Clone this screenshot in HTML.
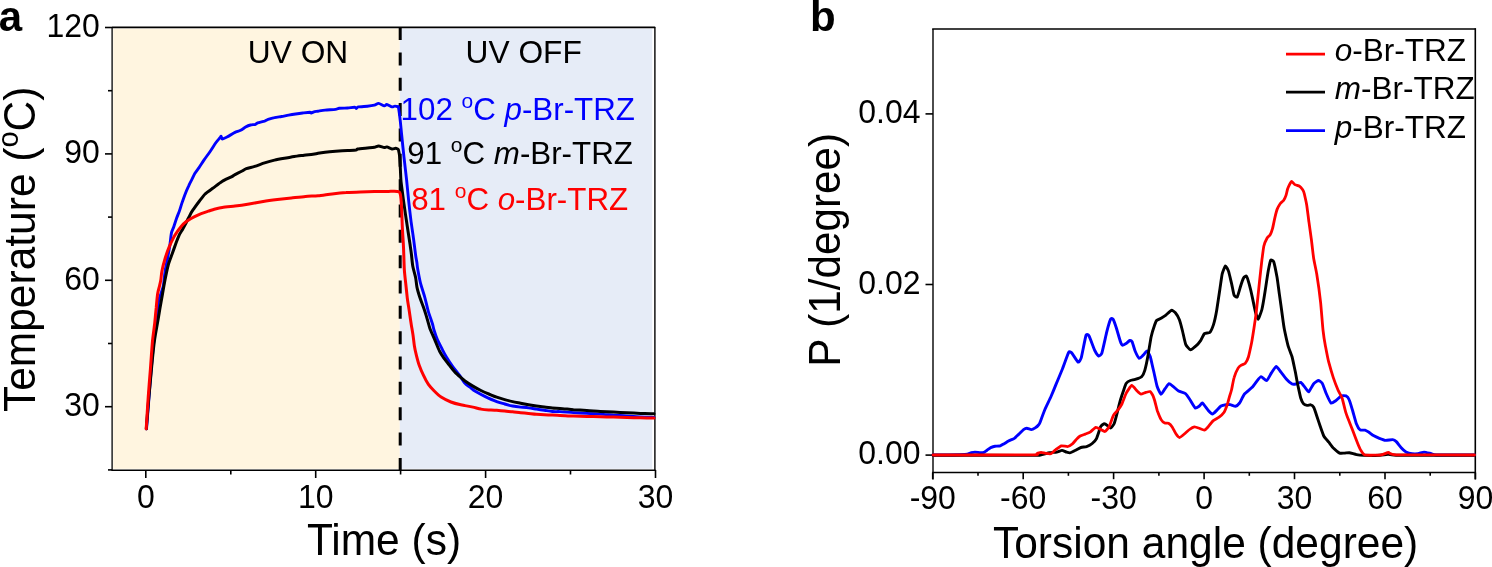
<!DOCTYPE html>
<html><head><meta charset="utf-8"><style>
html,body{margin:0;padding:0;background:#fff;}
svg{display:block;will-change:transform;}
text{font-family:"Liberation Sans", sans-serif;}
</style></head><body>
<svg width="1492" height="567" viewBox="0 0 1492 567">
<rect x="113.2" y="28.6" width="286.6" height="440.2" fill="#FFF5E0"/>
<rect x="399.8" y="28.6" width="252.4" height="440.2" fill="#E6ECF7"/>
<g stroke="#000" fill="none">
<path d="M112.1,27 V470.6" stroke-width="1.3"/>
<path d="M111.5,470.2 H655.6" stroke-width="1.6"/>
<path d="M112,27.4 H655.2" stroke-width="1.6"/>
<path d="M654.9,27 V470.6" stroke-width="1.4"/>
<path d="M105,27.5 H112" stroke-width="1.6"/>
<path d="M105,153.9 H112" stroke-width="1.6"/>
<path d="M105,280.3 H112" stroke-width="1.6"/>
<path d="M105,406.7 H112" stroke-width="1.6"/>
<path d="M108,90.7 H112" stroke-width="1.6"/>
<path d="M108,217.1 H112" stroke-width="1.6"/>
<path d="M108,343.5 H112" stroke-width="1.6"/>
<path d="M108,469.9 H112" stroke-width="1.6"/>
<path d="M145.8,470 V478" stroke-width="1.6"/>
<path d="M315.7,470 V478" stroke-width="1.6"/>
<path d="M485.6,470 V478" stroke-width="1.6"/>
<path d="M655.5,470 V478" stroke-width="1.6"/>
<path d="M230.8,470 V474.5" stroke-width="1.6"/>
<path d="M400.6,470 V474.5" stroke-width="1.6"/>
<path d="M570.5,470 V474.5" stroke-width="1.6"/>
</g>
<path d="M400.2,27.1 V470" stroke="#000" stroke-width="3" stroke-dasharray="13 12.34" fill="none"/>
<path d="M146.5,428.8 C146.8,425.2 148.2,407.5 148.8,400.0 C149.4,392.5 150.7,374.7 151.2,369.1 C151.7,363.5 152.2,358.6 152.5,355.0 C152.8,351.4 153.5,344.1 153.9,340.0 C154.3,335.9 155.6,325.8 156.0,322.0 C156.4,318.2 157.2,312.8 157.5,310.0 C157.8,307.2 158.3,302.2 158.8,300.0 C159.3,297.8 160.9,293.9 161.5,292.0 C162.1,290.1 163.1,287.6 163.5,285.0 C163.9,282.4 164.6,274.5 165.1,271.2 C165.6,267.9 166.9,261.7 167.5,258.5 C168.1,255.3 169.3,249.0 169.8,245.8 C170.3,242.6 170.9,235.5 171.4,233.1 C171.9,230.7 173.2,228.5 173.8,226.7 C174.4,224.9 175.8,220.5 176.5,218.5 C177.2,216.5 178.7,212.9 179.4,211.0 C180.1,209.1 181.2,205.2 181.9,203.1 C182.6,201.0 184.2,196.6 185.0,194.4 C185.8,192.2 187.8,187.7 188.7,185.8 C189.5,184.0 191.0,181.1 191.8,179.6 C192.6,178.1 193.9,175.0 194.8,173.5 C195.7,172.0 198.0,169.0 199.2,167.3 C200.4,165.6 202.7,161.9 204.1,159.9 C205.5,157.9 208.8,153.4 210.3,151.2 C211.8,149.0 214.8,144.2 216.0,142.5 C217.2,140.8 219.4,138.5 220.0,137.7 C220.6,136.9 220.8,136.1 221.1,136.3 C221.4,136.5 221.5,139.0 222.4,139.0 C223.3,139.0 227.1,136.9 228.7,136.1 C230.3,135.3 233.5,133.1 235.0,132.4 C236.5,131.7 239.3,131.0 240.6,130.3 C241.9,129.6 244.4,127.8 245.6,127.1 C246.8,126.4 249.3,125.3 250.5,125.0 C251.7,124.7 254.6,124.6 255.5,124.3 C256.4,124.0 256.5,123.3 257.6,122.9 C258.7,122.5 263.3,121.5 264.6,121.1 C265.9,120.6 266.9,119.7 268.1,119.3 C269.3,118.9 272.8,117.9 274.5,117.6 C276.2,117.2 279.7,116.8 281.5,116.5 C283.3,116.2 286.8,115.4 288.6,115.1 C290.4,114.8 293.8,114.3 295.6,114.0 C297.4,113.7 300.9,113.2 302.7,113.0 C304.5,112.8 308.7,112.3 309.8,112.3 C310.9,112.3 310.6,113.1 311.2,113.0 C311.8,112.9 313.8,111.8 314.7,111.6 C315.6,111.4 316.7,111.4 318.0,111.2 C319.3,111.0 322.9,110.3 325.1,110.1 C327.3,109.9 333.8,109.6 335.6,109.4 C337.4,109.2 337.7,108.5 339.2,108.3 C340.7,108.1 345.7,108.1 347.6,108.0 C349.5,107.9 353.6,107.2 354.7,107.3 C355.8,107.4 356.0,108.5 356.4,108.5 C356.8,108.5 356.8,107.2 358.2,106.9 C359.6,106.6 365.4,106.4 367.4,106.2 C369.4,106.0 373.0,105.5 374.4,105.2 C375.8,104.9 377.4,103.3 378.6,103.4 C379.8,103.5 383.3,105.8 384.3,105.9 C385.3,106.0 385.8,104.4 386.8,104.5 C387.8,104.6 391.0,106.7 392.0,106.9 C393.0,107.1 394.1,106.1 394.9,106.1 C395.6,106.1 397.6,106.7 398.0,106.9 C398.4,107.1 398.2,105.7 398.5,107.5 C398.8,109.3 399.9,117.6 400.3,121.1 C400.7,124.6 401.2,130.8 401.7,135.2 C402.1,139.6 403.3,150.7 403.9,156.3 C404.5,161.9 406.0,174.4 406.6,180.0 C407.2,185.6 408.2,196.2 408.7,201.1 C409.2,206.0 410.2,214.6 410.8,219.4 C411.4,224.2 413.0,234.8 413.6,239.2 C414.2,243.6 415.2,252.2 415.6,255.0 C416.0,257.9 416.5,260.2 416.8,262.0 C417.1,263.8 417.2,266.5 417.7,269.1 C418.2,271.8 419.6,279.7 420.5,283.2 C421.4,286.7 423.8,293.8 424.8,297.3 C425.8,300.8 427.3,308.0 428.3,311.3 C429.3,314.6 431.8,321.7 432.5,324.0 C433.2,326.3 433.4,328.0 434.0,330.0 C434.6,332.0 436.4,337.4 437.5,339.9 C438.6,342.4 441.4,347.6 442.5,349.8 C443.6,352.0 445.5,355.5 446.7,357.5 C447.9,359.5 450.8,363.8 452.4,366.0 C454.0,368.2 457.8,373.0 459.4,375.2 C461.0,377.4 463.7,381.8 465.0,383.3 C466.3,384.8 468.7,386.2 470.0,387.2 C471.3,388.2 473.4,390.2 475.3,391.3 C477.2,392.4 482.1,395.1 484.8,396.4 C487.5,397.7 494.2,400.7 496.7,401.6 C499.2,402.6 502.7,403.4 504.7,404.0 C506.7,404.6 510.6,405.6 512.6,406.0 C514.6,406.4 518.6,406.9 520.6,407.1 C522.6,407.3 526.5,407.6 528.5,407.9 C530.5,408.1 534.4,408.8 536.4,409.1 C538.4,409.4 542.4,410.0 544.4,410.3 C546.4,410.6 550.3,411.3 552.3,411.5 C554.2,411.7 557.4,411.5 560.0,411.6 C562.6,411.7 570.0,412.4 573.4,412.6 C576.8,412.8 583.4,413.2 586.8,413.4 C590.1,413.6 596.9,413.9 600.2,414.1 C603.6,414.3 610.7,414.9 613.6,415.1 C616.5,415.3 620.4,415.6 623.7,415.8 C627.0,416.0 636.2,416.7 640.0,416.9 C643.8,417.1 652.2,417.4 654.0,417.5" stroke="#0000FF" stroke-width="2.9" fill="none" stroke-linejoin="round" stroke-linecap="round"/>
<path d="M146.3,428.8 C146.6,425.2 148.0,406.6 148.6,400.0 C149.2,393.4 150.3,381.0 150.8,376.0 C151.3,371.0 151.9,363.9 152.3,360.0 C152.7,356.1 153.5,348.2 153.9,345.0 C154.3,341.8 155.0,336.8 155.5,334.0 C156.0,331.2 157.0,325.6 157.6,322.3 C158.2,319.1 159.4,311.5 160.0,308.0 C160.6,304.5 161.9,297.5 162.5,294.0 C163.1,290.5 164.3,283.6 165.0,280.0 C165.7,276.4 167.4,268.1 168.3,264.8 C169.2,261.5 171.2,256.5 172.2,253.7 C173.2,250.9 175.3,245.0 176.2,242.6 C177.1,240.2 178.6,236.4 179.4,234.7 C180.2,233.0 182.0,230.5 182.8,229.0 C183.6,227.5 185.3,224.4 186.0,223.0 C186.7,221.6 187.8,219.3 188.5,218.0 C189.2,216.7 190.6,213.8 191.3,212.6 C192.0,211.4 193.1,209.8 194.1,208.3 C195.1,206.9 198.1,202.8 199.5,201.0 C200.9,199.2 203.7,195.4 205.3,193.8 C207.0,192.2 210.6,189.8 212.7,188.3 C214.8,186.8 219.6,183.0 222.0,181.5 C224.4,180.0 230.3,177.5 231.9,176.6 C233.5,175.7 233.7,175.3 235.0,174.6 C236.3,173.9 240.7,171.8 242.1,171.0 C243.5,170.2 244.7,169.2 246.3,168.6 C247.9,168.0 252.4,167.1 254.7,166.4 C257.0,165.7 262.1,163.7 264.6,162.9 C267.1,162.1 272.0,160.7 274.5,160.1 C277.0,159.5 281.9,158.7 284.4,158.3 C286.9,157.9 291.7,157.0 294.2,156.6 C296.7,156.2 302.0,155.5 304.1,155.2 C306.2,154.9 309.5,154.7 311.2,154.5 C312.9,154.3 316.3,153.6 318.0,153.3 C319.7,153.0 322.9,152.5 325.1,152.2 C327.3,151.9 332.8,151.4 335.6,151.2 C338.4,151.0 345.0,150.6 347.6,150.5 C350.2,150.4 354.9,150.3 356.1,150.1 C357.3,149.9 356.1,149.3 357.5,149.0 C358.9,148.7 365.3,148.2 367.4,148.0 C369.5,147.8 373.0,147.6 374.4,147.3 C375.8,147.0 377.4,145.9 378.6,145.9 C379.8,145.9 383.3,147.5 384.3,147.6 C385.3,147.7 385.8,146.7 386.8,146.9 C387.8,147.1 390.9,148.8 392.0,149.0 C393.1,149.2 394.9,148.3 395.6,148.3 C396.3,148.3 397.3,148.8 397.7,149.0 C398.1,149.2 398.3,149.1 398.5,150.0 C398.7,150.9 399.4,154.1 399.6,156.3 C399.8,158.5 400.1,164.6 400.3,167.6 C400.5,170.6 400.6,176.3 400.9,180.0 C401.2,183.7 402.5,192.8 403.0,196.9 C403.5,201.0 404.7,208.7 405.2,212.4 C405.7,216.1 406.7,222.4 407.3,226.5 C407.9,230.6 409.6,241.2 410.1,244.8 C410.6,248.4 411.2,252.3 411.5,255.0 C411.8,257.7 412.3,263.5 412.8,266.3 C413.3,269.1 415.1,274.9 415.6,277.5 C416.1,280.1 416.5,284.9 417.0,287.4 C417.5,289.9 419.0,294.8 419.8,297.3 C420.6,299.8 422.6,304.8 423.4,307.1 C424.2,309.4 425.5,313.3 426.2,315.6 C426.9,317.9 428.5,323.6 429.0,325.4 C429.5,327.2 429.7,328.0 430.5,330.0 C431.3,332.0 434.3,338.7 435.4,341.3 C436.5,343.9 438.5,349.1 439.6,351.2 C440.7,353.3 442.7,356.4 443.9,358.2 C445.1,360.0 448.1,363.5 449.5,365.3 C450.9,367.1 453.6,370.7 455.2,372.4 C456.8,374.1 461.0,377.6 462.2,378.7 C463.4,379.8 463.7,380.1 465.0,381.0 C466.3,381.9 470.9,384.9 472.9,386.1 C474.9,387.3 478.9,389.5 480.9,390.5 C482.9,391.5 486.8,393.2 488.8,394.0 C490.8,394.8 494.7,396.5 496.7,397.2 C498.7,397.9 502.7,399.1 504.7,399.6 C506.7,400.2 510.6,401.2 512.6,401.6 C514.6,402.1 518.6,402.8 520.6,403.2 C522.6,403.6 526.5,404.4 528.5,404.8 C530.5,405.2 534.4,405.8 536.4,406.1 C538.4,406.4 542.4,406.7 544.4,406.9 C546.4,407.1 550.3,407.7 552.3,407.9 C554.2,408.1 557.4,408.2 560.0,408.4 C562.6,408.6 570.0,409.4 573.4,409.7 C576.8,409.9 583.4,410.2 586.8,410.4 C590.1,410.6 596.9,411.2 600.2,411.4 C603.6,411.6 610.2,411.9 613.6,412.1 C617.0,412.3 623.6,412.6 627.0,412.8 C630.4,413.0 637.0,413.3 640.4,413.4 C643.8,413.5 652.3,413.8 654.0,413.8" stroke="#000" stroke-width="3" fill="none" stroke-linejoin="round" stroke-linecap="round"/>
<path d="M146.2,428.8 C146.4,424.9 147.7,404.9 148.2,397.4 C148.7,389.9 150.0,374.4 150.4,369.1 C150.8,363.8 151.1,358.6 151.4,355.0 C151.7,351.4 152.2,344.1 152.6,340.0 C153.0,335.9 154.4,326.3 154.8,322.3 C155.2,318.3 155.8,311.5 156.2,308.0 C156.5,304.5 157.2,296.8 157.6,294.0 C158.0,291.2 159.1,287.8 159.5,286.0 C159.9,284.2 160.5,281.9 160.8,280.0 C161.1,278.1 161.4,273.9 161.9,271.2 C162.4,268.5 164.2,261.5 165.1,258.5 C166.0,255.5 167.9,250.1 169.0,247.4 C170.1,244.7 172.8,239.0 173.8,237.1 C174.8,235.2 176.2,233.2 177.0,232.0 C177.8,230.8 179.4,228.8 180.2,227.8 C181.0,226.8 182.6,224.8 183.5,223.9 C184.4,223.1 185.8,221.9 187.1,221.0 C188.4,220.1 192.3,217.7 194.1,216.8 C195.9,215.9 199.4,214.3 201.2,213.6 C203.0,212.9 206.4,211.8 208.2,211.2 C210.0,210.6 213.5,209.4 215.3,209.0 C217.1,208.6 219.8,208.0 222.3,207.6 C224.8,207.2 231.7,206.5 235.0,206.1 C238.3,205.7 245.6,204.6 249.1,204.0 C252.6,203.4 259.7,202.1 263.2,201.5 C266.7,200.9 273.8,200.0 277.3,199.6 C280.8,199.2 287.9,198.4 291.4,198.0 C294.9,197.6 302.2,196.7 305.5,196.4 C308.8,196.1 314.7,196.1 318.0,195.8 C321.3,195.5 328.6,194.3 332.1,193.9 C335.6,193.5 342.7,192.8 346.2,192.6 C349.7,192.3 356.8,192.0 360.3,191.9 C363.8,191.8 370.9,191.7 374.4,191.6 C377.9,191.5 386.0,191.5 388.5,191.4 C391.0,191.3 392.9,191.1 394.2,191.2 C395.5,191.3 398.4,191.6 399.1,191.9 C399.9,192.2 400.0,193.2 400.2,194.0 C400.4,194.8 400.7,196.2 400.9,198.0 C401.1,199.8 401.4,204.6 401.6,208.2 C401.8,211.8 402.1,222.1 402.3,226.5 C402.5,230.9 403.1,239.8 403.3,243.4 C403.5,247.0 403.7,251.8 403.8,255.0 C403.9,258.2 404.1,265.6 404.3,269.1 C404.5,272.6 405.3,279.7 405.7,283.2 C406.1,286.7 406.8,293.8 407.2,297.3 C407.6,300.8 408.8,307.8 409.3,311.3 C409.8,314.8 410.9,322.4 411.4,325.4 C411.9,328.4 412.6,332.4 413.0,335.0 C413.4,337.6 414.0,343.4 414.4,346.0 C414.8,348.6 415.8,353.0 416.4,355.4 C417.0,357.8 418.3,362.8 419.2,365.3 C420.1,367.8 422.2,372.8 423.4,375.2 C424.5,377.6 427.1,382.5 428.4,384.4 C429.7,386.3 432.4,389.1 434.0,390.7 C435.6,392.3 439.0,395.7 441.1,397.1 C443.2,398.5 448.4,401.0 450.9,402.0 C453.4,403.0 459.0,404.4 460.8,404.8 C462.6,405.2 463.5,405.3 465.0,405.6 C466.5,405.9 470.9,406.7 472.9,407.1 C474.9,407.5 478.9,408.8 480.9,409.1 C482.9,409.5 486.8,409.8 488.8,409.9 C490.8,410.0 494.7,410.1 496.7,410.3 C498.7,410.5 502.7,410.9 504.7,411.1 C506.7,411.3 510.6,411.5 512.6,411.7 C514.6,411.9 518.6,412.5 520.6,412.7 C522.6,412.9 526.5,413.3 528.5,413.5 C530.5,413.7 534.4,414.2 536.4,414.3 C538.4,414.4 542.4,414.6 544.4,414.7 C546.4,414.8 550.3,415.0 552.3,415.1 C554.2,415.2 557.4,415.3 560.0,415.4 C562.6,415.5 570.0,416.0 573.4,416.1 C576.8,416.2 583.4,416.3 586.8,416.4 C590.1,416.5 596.9,416.7 600.2,416.8 C603.6,416.9 610.2,417.0 613.6,417.1 C617.0,417.2 623.6,417.4 627.0,417.5 C630.4,417.6 637.0,417.7 640.4,417.8 C643.8,417.9 652.3,418.1 654.0,418.1" stroke="#FF0000" stroke-width="3" fill="none" stroke-linejoin="round" stroke-linecap="round"/>
<g stroke="#000" fill="none">
<path d="M933,29 V479.5" stroke-width="1.4"/>
<path d="M932.2,472.5 H1475.8" stroke-width="1.6"/>
<path d="M932.2,29 H1475.8" stroke-width="1.6"/>
<path d="M1475.3,28.2 V479.5" stroke-width="1.6"/>
<path d="M925.5,455.1 H933" stroke-width="1.6"/>
<path d="M925.5,284.5 H933" stroke-width="1.6"/>
<path d="M925.5,113.9 H933" stroke-width="1.6"/>
<path d="M932.7,472.5 V479.2" stroke-width="1.6"/>
<path d="M1023.2,472.5 V479.2" stroke-width="1.6"/>
<path d="M1113.6,472.5 V479.2" stroke-width="1.6"/>
<path d="M1204.1,472.5 V479.2" stroke-width="1.6"/>
<path d="M1294.5,472.5 V479.2" stroke-width="1.6"/>
<path d="M1385.0,472.5 V479.2" stroke-width="1.6"/>
<path d="M1475.4,472.5 V479.2" stroke-width="1.6"/>
<path d="M978.0,472.5 V475.8" stroke-width="1.6"/>
<path d="M1068.4,472.5 V475.8" stroke-width="1.6"/>
<path d="M1158.9,472.5 V475.8" stroke-width="1.6"/>
<path d="M1249.3,472.5 V475.8" stroke-width="1.6"/>
<path d="M1339.8,472.5 V475.8" stroke-width="1.6"/>
<path d="M1430.2,472.5 V475.8" stroke-width="1.6"/>
</g>
<path d="M933.0,455.0 C935.6,455.0 961.6,454.7 964.8,454.5 C968.0,454.3 970.4,452.9 971.2,452.7 C972.0,452.5 974.1,452.1 974.9,452.1 C975.7,452.1 980.0,452.7 980.7,452.7 C981.5,452.7 983.4,452.6 983.9,452.4 C984.4,452.2 986.4,450.7 987.0,450.3 C987.6,449.9 990.0,447.9 990.7,447.6 C991.4,447.3 994.2,446.4 995.0,446.3 C995.8,446.2 999.6,446.0 1000.3,445.8 C1001.0,445.6 1003.2,444.3 1003.9,443.9 C1004.6,443.5 1007.6,441.5 1008.5,441.0 C1009.4,440.5 1013.5,439.0 1014.4,438.4 C1015.3,437.8 1018.1,434.8 1018.9,434.1 C1019.7,433.4 1022.8,430.1 1023.5,429.6 C1024.2,429.1 1026.1,428.3 1026.8,428.3 C1027.5,428.3 1030.6,429.6 1031.3,429.6 C1032.0,429.6 1034.6,428.3 1035.2,427.9 C1035.8,427.5 1038.1,425.5 1038.5,425.0 C1038.9,424.5 1039.5,423.7 1040.0,422.4 C1040.5,421.1 1044.1,411.5 1045.0,409.3 C1045.9,407.1 1050.1,398.6 1051.0,396.5 C1051.9,394.4 1055.0,386.9 1055.9,384.6 C1056.8,382.4 1061.1,372.2 1062.2,369.5 C1063.3,366.8 1067.8,353.9 1068.6,352.5 C1069.4,351.1 1070.9,352.1 1071.7,352.9 C1072.5,353.7 1077.3,361.7 1078.1,362.1 C1078.9,362.5 1080.6,359.8 1081.3,357.6 C1082.0,355.4 1085.3,337.2 1086.0,335.4 C1086.7,333.6 1088.5,334.9 1089.2,336.2 C1089.9,337.5 1094.0,348.9 1094.8,350.5 C1095.6,352.1 1098.1,355.8 1098.7,356.0 C1099.3,356.2 1101.2,354.9 1101.9,352.9 C1102.6,350.9 1106.0,335.0 1106.7,332.2 C1107.4,329.4 1110.1,320.3 1110.6,319.2 C1111.1,318.1 1112.5,318.5 1113.0,319.2 C1113.5,319.9 1115.6,325.7 1116.2,327.5 C1116.8,329.3 1119.7,339.5 1120.2,341.0 C1120.7,342.5 1122.0,345.0 1122.5,345.2 C1123.0,345.4 1125.9,343.7 1126.5,343.3 C1127.1,342.9 1129.2,340.6 1129.7,340.5 C1130.2,340.4 1131.6,340.8 1132.1,341.7 C1132.6,342.6 1134.6,349.9 1135.2,351.3 C1135.8,352.7 1138.5,358.1 1139.2,358.4 C1139.9,358.7 1142.5,355.8 1143.2,355.2 C1143.9,354.6 1146.5,350.9 1147.1,351.0 C1147.7,351.1 1149.8,355.2 1150.3,356.8 C1150.8,358.4 1152.8,367.6 1153.4,370.0 C1154.0,372.4 1156.4,384.0 1157.0,386.0 C1157.6,388.0 1160.4,394.1 1161.1,394.3 C1161.8,394.5 1164.4,389.6 1165.1,388.7 C1165.8,387.8 1168.3,383.9 1169.0,383.7 C1169.7,383.5 1172.2,385.7 1173.0,386.3 C1173.8,386.9 1177.6,390.5 1178.6,391.1 C1179.6,391.7 1184.5,392.9 1185.5,393.6 C1186.5,394.3 1189.2,398.6 1190.0,399.8 C1190.8,401.0 1194.4,407.5 1195.2,408.0 C1196.0,408.5 1198.8,406.4 1199.4,406.0 C1200.0,405.6 1201.8,402.6 1202.5,403.0 C1203.2,403.4 1207.5,409.6 1208.3,410.5 C1209.1,411.4 1211.8,414.0 1212.5,414.0 C1213.2,414.0 1216.0,411.1 1216.7,410.4 C1217.4,409.7 1220.2,406.5 1221.0,406.0 C1221.8,405.5 1225.2,404.8 1226.0,404.7 C1226.8,404.6 1229.4,404.5 1230.2,404.6 C1231.0,404.7 1234.7,406.4 1235.5,406.3 C1236.3,406.2 1238.8,404.0 1239.6,403.0 C1240.3,402.0 1243.4,395.3 1244.5,394.0 C1245.6,392.7 1251.4,388.2 1252.4,387.1 C1253.5,386.0 1256.4,381.7 1257.1,380.8 C1257.8,379.9 1260.3,376.6 1261.1,376.6 C1261.9,376.6 1265.8,380.8 1266.7,380.5 C1267.6,380.2 1270.6,374.1 1271.4,372.9 C1272.2,371.7 1275.4,366.6 1276.2,366.5 C1277.0,366.4 1280.1,371.0 1281.0,372.1 C1281.9,373.2 1285.6,378.2 1286.5,379.2 C1287.4,380.2 1291.3,383.6 1292.1,384.0 C1292.9,384.4 1295.3,384.1 1296.0,384.0 C1296.7,383.9 1300.1,382.1 1300.8,382.4 C1301.5,382.7 1304.1,386.3 1304.8,387.1 C1305.5,387.9 1308.0,392.2 1308.7,391.9 C1309.4,391.6 1312.7,384.9 1313.5,384.0 C1314.3,383.1 1317.6,380.6 1318.3,380.5 C1319.0,380.4 1321.5,382.1 1322.2,383.2 C1322.9,384.3 1325.5,391.9 1326.2,393.5 C1326.9,395.1 1330.2,402.4 1331.0,403.0 C1331.8,403.6 1334.8,401.4 1335.7,400.8 C1336.6,400.2 1340.4,396.3 1341.3,395.9 C1342.2,395.5 1345.3,395.6 1346.0,395.9 C1346.7,396.2 1348.7,398.6 1349.2,399.8 C1349.8,401.0 1352.0,408.5 1352.6,410.5 C1353.2,412.5 1355.9,422.5 1356.5,424.1 C1357.1,425.7 1359.4,429.4 1360.1,429.9 C1360.8,430.4 1364.3,430.0 1365.0,430.2 C1365.7,430.4 1367.9,431.6 1368.6,432.0 C1369.3,432.4 1372.5,435.1 1373.4,435.6 C1374.3,436.1 1378.4,438.0 1379.4,438.4 C1380.4,438.8 1384.4,440.3 1385.5,440.4 C1386.6,440.5 1391.8,439.5 1392.7,439.6 C1393.6,439.7 1395.6,440.9 1396.3,441.6 C1397.0,442.3 1400.4,446.8 1401.2,447.7 C1402.0,448.6 1405.1,451.4 1406.0,451.9 C1406.9,452.4 1411.0,453.6 1412.0,453.7 C1413.0,453.8 1417.0,453.8 1418.0,453.7 C1419.0,453.6 1423.0,452.1 1424.1,452.1 C1425.2,452.1 1430.3,453.5 1431.3,453.7 C1432.3,453.9 1432.5,454.9 1436.1,455.0 C1439.7,455.1 1471.3,455.0 1474.5,455.0" stroke="#0000FF" stroke-width="2.9" fill="none" stroke-linejoin="round" stroke-linecap="round"/>
<path d="M933.0,455.2 C941.3,455.2 1023.6,455.4 1032.6,455.4 C1041.6,455.4 1039.1,455.2 1040.5,455.0 C1041.9,454.8 1048.2,452.9 1049.6,452.7 C1051.0,452.5 1055.8,452.3 1056.8,452.1 C1057.8,451.9 1061.2,450.4 1062.0,450.4 C1062.8,450.4 1065.4,451.8 1066.1,452.0 C1066.8,452.2 1069.1,453.0 1069.8,452.9 C1070.5,452.8 1074.1,450.9 1075.0,450.5 C1075.9,450.1 1079.9,447.8 1080.9,447.5 C1081.9,447.2 1085.7,446.9 1086.6,446.6 C1087.5,446.3 1091.4,444.2 1092.2,443.5 C1093.0,442.8 1095.8,440.0 1096.5,438.6 C1097.2,437.2 1100.1,427.8 1100.7,426.6 C1101.3,425.4 1103.6,423.9 1104.2,423.8 C1104.8,423.7 1107.3,425.5 1107.8,425.9 C1108.3,426.2 1110.1,428.2 1110.6,428.0 C1111.1,427.8 1113.5,425.2 1114.1,423.8 C1114.7,422.4 1117.1,413.1 1117.6,411.1 C1118.1,409.1 1120.0,401.4 1120.5,399.8 C1121.0,398.2 1122.8,392.7 1123.3,391.3 C1123.8,389.9 1125.5,384.4 1126.1,383.5 C1126.7,382.6 1129.6,380.8 1130.4,380.5 C1131.2,380.2 1134.3,379.7 1135.2,379.4 C1136.1,379.1 1140.8,377.5 1141.6,376.7 C1142.4,375.9 1144.3,372.0 1144.8,370.3 C1145.3,368.6 1147.4,358.8 1147.9,356.0 C1148.4,353.2 1150.6,339.5 1151.1,337.0 C1151.6,334.5 1153.8,327.3 1154.3,325.9 C1154.8,324.5 1155.9,321.2 1156.5,320.6 C1157.1,320.0 1160.3,318.8 1161.1,318.3 C1161.9,317.8 1165.0,315.8 1165.9,315.1 C1166.8,314.4 1170.6,310.5 1171.4,310.3 C1172.2,310.1 1174.7,311.9 1175.4,312.7 C1176.1,313.5 1178.8,318.3 1179.4,319.8 C1180.0,321.3 1182.0,329.0 1182.5,331.0 C1183.0,333.0 1185.0,342.7 1185.7,344.3 C1186.4,345.9 1189.6,349.7 1190.5,349.8 C1191.4,349.9 1195.1,346.7 1196.0,345.9 C1196.9,345.1 1200.1,341.3 1200.8,340.3 C1201.5,339.3 1203.7,334.3 1204.4,333.6 C1205.2,332.9 1209.0,333.1 1209.8,332.4 C1210.6,331.6 1212.9,326.4 1213.5,324.6 C1214.1,322.8 1216.2,313.2 1216.7,310.3 C1217.2,307.4 1219.3,292.7 1219.8,289.7 C1220.3,286.7 1221.7,275.8 1222.2,273.8 C1222.7,271.8 1224.9,266.1 1225.4,265.9 C1225.9,265.7 1228.1,269.9 1228.6,271.4 C1229.1,272.9 1231.2,282.1 1231.7,284.1 C1232.2,286.1 1233.6,294.1 1234.1,295.2 C1234.6,296.3 1236.8,297.5 1237.3,296.8 C1237.8,296.1 1240.0,288.1 1240.5,286.5 C1241.0,284.9 1243.2,278.7 1243.7,277.8 C1244.2,276.9 1246.0,275.7 1246.5,276.2 C1247.0,276.7 1248.7,282.3 1249.2,284.1 C1249.7,285.9 1251.9,295.2 1252.4,297.6 C1252.9,300.0 1255.1,310.7 1255.6,312.5 C1256.1,314.3 1257.7,319.4 1258.2,319.2 C1258.7,318.9 1261.3,311.8 1261.9,309.5 C1262.5,307.2 1264.6,294.5 1265.1,291.3 C1265.6,288.1 1267.8,273.2 1268.3,270.6 C1268.8,268.0 1270.1,261.0 1270.6,260.3 C1271.1,259.6 1273.3,260.5 1273.8,261.9 C1274.3,263.3 1276.5,274.3 1277.0,277.0 C1277.5,279.7 1278.9,291.1 1279.4,294.4 C1279.9,297.7 1282.1,313.7 1282.5,316.7 C1282.9,319.7 1284.0,327.6 1284.5,330.0 C1285.0,332.4 1287.5,343.6 1288.1,345.9 C1288.7,348.1 1291.5,354.9 1292.1,357.0 C1292.7,359.1 1294.7,369.1 1295.2,371.3 C1295.7,373.6 1297.1,381.8 1297.6,384.0 C1298.1,386.2 1300.3,396.7 1300.8,398.3 C1301.3,399.9 1302.9,403.0 1303.4,403.6 C1303.9,404.2 1306.5,405.3 1307.1,405.4 C1307.7,405.5 1310.2,404.7 1310.7,404.8 C1311.2,404.9 1313.2,406.3 1313.7,407.2 C1314.2,408.1 1316.2,414.1 1316.7,415.7 C1317.2,417.3 1319.7,424.8 1320.3,426.5 C1320.9,428.2 1323.2,434.9 1323.9,436.2 C1324.6,437.5 1328.0,441.2 1328.8,442.2 C1329.6,443.2 1332.7,447.4 1333.6,448.3 C1334.5,449.2 1338.7,452.7 1339.6,453.1 C1340.5,453.5 1343.6,453.1 1344.4,453.1 C1345.2,453.1 1348.3,452.6 1349.3,452.7 C1350.3,452.8 1355.3,454.4 1356.5,454.6 C1357.7,454.8 1361.8,455.2 1363.8,455.3 C1365.8,455.4 1378.0,455.3 1380.0,455.2 C1382.0,455.1 1386.7,454.3 1388.0,454.3 C1389.3,454.3 1388.8,455.1 1396.0,455.2 C1403.2,455.3 1468.0,455.2 1474.5,455.2" stroke="#000" stroke-width="2.9" fill="none" stroke-linejoin="round" stroke-linecap="round"/>
<path d="M933.0,455.0 C941.3,455.0 1023.8,455.0 1032.5,454.9 C1041.2,454.8 1036.3,453.7 1037.0,453.5 C1037.7,453.3 1040.4,452.3 1041.1,452.3 C1041.8,452.3 1044.9,453.3 1045.7,453.4 C1046.5,453.5 1050.1,454.0 1050.9,453.7 C1051.7,453.4 1054.6,450.4 1055.5,449.8 C1056.4,449.2 1060.3,446.2 1061.3,445.9 C1062.3,445.6 1067.0,446.7 1067.9,446.5 C1068.8,446.3 1071.6,444.5 1072.4,443.9 C1073.2,443.2 1076.3,439.4 1077.0,438.7 C1077.7,438.0 1079.5,436.4 1080.2,436.0 C1080.9,435.6 1084.4,434.4 1085.2,434.1 C1086.0,433.8 1089.2,432.8 1090.1,432.2 C1091.0,431.6 1094.9,427.5 1095.8,427.3 C1096.7,427.1 1099.9,429.0 1100.7,429.4 C1101.5,429.8 1104.2,431.7 1104.9,431.5 C1105.6,431.3 1108.5,428.0 1109.2,426.6 C1109.9,425.2 1112.7,416.7 1113.4,415.3 C1114.1,413.9 1116.9,411.3 1117.6,410.4 C1118.3,409.5 1121.2,405.4 1121.9,404.0 C1122.6,402.6 1125.3,394.9 1126.1,393.4 C1126.9,391.8 1130.9,385.6 1131.8,385.4 C1132.7,385.2 1136.6,390.6 1137.4,391.3 C1138.2,392.0 1140.2,394.0 1140.9,394.1 C1141.6,394.2 1145.1,392.6 1145.9,392.4 C1146.7,392.2 1149.5,391.3 1150.1,391.6 C1150.7,391.9 1152.5,394.8 1152.9,395.5 C1153.3,396.2 1154.1,398.7 1154.5,400.0 C1154.9,401.3 1156.9,409.4 1157.4,411.0 C1158.0,412.6 1160.5,418.6 1161.1,419.6 C1161.7,420.6 1164.2,422.8 1164.8,423.1 C1165.4,423.4 1167.9,423.0 1168.5,423.3 C1169.1,423.6 1171.6,426.1 1172.2,427.0 C1172.8,427.9 1175.3,432.9 1175.9,433.8 C1176.5,434.7 1178.9,437.5 1179.6,437.5 C1180.3,437.5 1183.8,434.5 1184.6,433.8 C1185.4,433.1 1188.7,430.1 1189.5,429.5 C1190.3,428.9 1193.6,426.9 1194.4,426.8 C1195.2,426.7 1198.6,428.0 1199.4,428.3 C1200.2,428.6 1203.6,430.2 1204.3,430.1 C1205.0,430.0 1207.3,427.8 1208.0,427.0 C1208.7,426.2 1212.1,421.7 1213.0,420.9 C1213.9,420.1 1218.2,417.9 1219.1,417.2 C1220.0,416.5 1223.4,413.2 1224.1,412.2 C1224.8,411.2 1226.7,406.1 1227.2,404.8 C1227.7,403.5 1229.2,397.4 1229.6,396.2 C1230.0,395.0 1231.1,391.6 1231.5,390.0 C1231.9,388.4 1233.5,379.4 1234.1,377.6 C1234.6,375.8 1237.5,369.1 1238.1,368.1 C1238.7,367.1 1240.7,365.6 1241.3,365.2 C1241.9,364.8 1244.6,364.0 1245.2,363.3 C1245.8,362.6 1247.9,358.7 1248.4,357.0 C1248.9,355.3 1251.1,345.1 1251.6,342.7 C1252.1,340.3 1253.6,330.6 1254.0,328.0 C1254.4,325.4 1255.8,315.8 1256.3,311.9 C1256.8,308.0 1259.0,286.0 1259.5,281.7 C1260.0,277.4 1261.5,263.0 1261.9,260.0 C1262.3,257.0 1263.4,248.0 1263.8,246.2 C1264.2,244.4 1266.5,239.2 1267.0,238.3 C1267.5,237.4 1269.7,235.6 1270.2,234.8 C1270.7,234.0 1272.1,230.1 1272.5,228.7 C1272.9,227.3 1274.5,219.2 1274.9,217.6 C1275.3,215.9 1276.8,210.1 1277.3,208.9 C1277.8,207.7 1280.0,204.0 1280.5,203.3 C1281.0,202.6 1283.2,200.9 1283.7,200.2 C1284.2,199.5 1285.7,196.3 1286.0,195.4 C1286.3,194.5 1287.3,189.9 1287.6,189.0 C1287.9,188.1 1289.2,185.2 1289.5,184.6 C1289.8,184.0 1291.2,181.4 1291.6,181.4 C1292.0,181.4 1294.1,184.2 1294.8,184.6 C1295.5,185.0 1298.8,185.8 1299.5,186.2 C1300.2,186.6 1302.3,189.2 1302.7,189.8 C1303.1,190.4 1304.0,192.5 1304.3,193.8 C1304.6,195.1 1306.3,202.5 1306.7,204.9 C1307.1,207.3 1308.6,219.5 1309.0,222.4 C1309.4,225.3 1311.0,236.8 1311.4,239.8 C1311.8,242.8 1313.2,255.2 1313.6,258.0 C1314.0,260.8 1316.1,270.1 1316.7,273.8 C1317.3,277.5 1320.1,297.7 1320.6,302.4 C1321.1,307.1 1322.6,326.4 1323.0,330.0 C1323.4,333.6 1324.9,343.3 1325.4,345.9 C1325.9,348.5 1327.9,359.1 1328.6,361.7 C1329.3,364.3 1332.5,375.2 1333.3,377.6 C1334.1,380.0 1337.4,388.6 1338.1,390.3 C1338.8,392.0 1341.5,396.2 1342.1,398.0 C1342.7,399.8 1345.1,410.1 1345.7,412.1 C1346.3,414.1 1348.6,420.0 1349.3,421.7 C1350.0,423.4 1352.8,430.8 1353.5,432.6 C1354.2,434.4 1357.1,441.9 1357.7,443.4 C1358.3,444.9 1360.1,449.1 1360.7,450.1 C1361.3,451.1 1363.3,454.6 1365.0,455.0 C1366.7,455.4 1378.6,455.2 1380.6,455.0 C1382.6,454.8 1387.2,452.5 1388.5,452.5 C1389.8,452.5 1389.1,454.6 1396.3,454.8 C1403.5,455.0 1468.0,455.0 1474.5,455.0" stroke="#FF0000" stroke-width="2.8" fill="none" stroke-linejoin="round" stroke-linecap="round"/>
<path d="M1286,54.1 H1325" stroke="#FF0000" stroke-width="2.8"/>
<path d="M1286,92.2 H1325" stroke="#000" stroke-width="2.8"/>
<path d="M1286,130.7 H1325" stroke="#0000FF" stroke-width="2.8"/>
<text transform="translate(-1.2,31) scale(1,1)" font-size="42" text-anchor="start" fill="#000" font-weight="bold" >a</text>
<text transform="translate(810,31) scale(1,1)" font-size="42" text-anchor="start" fill="#000" font-weight="bold" >b</text>
<text transform="translate(99.8,36.8) scale(1,1.035)" font-size="32" text-anchor="end" fill="#000" font-weight="normal" >120</text>
<text transform="translate(99.8,163.19) scale(1,1.035)" font-size="32" text-anchor="end" fill="#000" font-weight="normal" >90</text>
<text transform="translate(99.8,289.58) scale(1,1.035)" font-size="32" text-anchor="end" fill="#000" font-weight="normal" >60</text>
<text transform="translate(99.8,415.97) scale(1,1.035)" font-size="32" text-anchor="end" fill="#000" font-weight="normal" >30</text>
<text transform="translate(145.8,508.3) scale(1,1.035)" font-size="32" text-anchor="middle" fill="#000" font-weight="normal" >0</text>
<text transform="translate(315.7,508.3) scale(1,1.035)" font-size="32" text-anchor="middle" fill="#000" font-weight="normal" >10</text>
<text transform="translate(485.59999999999997,508.3) scale(1,1.035)" font-size="32" text-anchor="middle" fill="#000" font-weight="normal" >20</text>
<text transform="translate(655.5,508.3) scale(1,1.035)" font-size="32" text-anchor="middle" fill="#000" font-weight="normal" >30</text>
<text transform="translate(920.5,464.40000000000003) scale(1,1.035)" font-size="32" text-anchor="end" fill="#000" font-weight="normal" >0.00</text>
<text transform="translate(920.5,293.8) scale(1,1.035)" font-size="32" text-anchor="end" fill="#000" font-weight="normal" >0.02</text>
<text transform="translate(920.5,123.20000000000003) scale(1,1.035)" font-size="32" text-anchor="end" fill="#000" font-weight="normal" >0.04</text>
<text transform="translate(932.7499999999999,509) scale(1,1.035)" font-size="32" text-anchor="middle" fill="#000" font-weight="normal" >-90</text>
<text transform="translate(1023.1999999999999,509) scale(1,1.035)" font-size="32" text-anchor="middle" fill="#000" font-weight="normal" >-60</text>
<text transform="translate(1113.6499999999999,509) scale(1,1.035)" font-size="32" text-anchor="middle" fill="#000" font-weight="normal" >-30</text>
<text transform="translate(1204.1,509) scale(1,1.035)" font-size="32" text-anchor="middle" fill="#000" font-weight="normal" >0</text>
<text transform="translate(1294.55,509) scale(1,1.035)" font-size="32" text-anchor="middle" fill="#000" font-weight="normal" >30</text>
<text transform="translate(1385.0,509) scale(1,1.035)" font-size="32" text-anchor="middle" fill="#000" font-weight="normal" >60</text>
<text transform="translate(1475.4499999999998,509) scale(1,1.035)" font-size="32" text-anchor="middle" fill="#000" font-weight="normal" >90</text>
<text transform="translate(384,554.6) scale(1,1.035)" font-size="42.5" text-anchor="middle" fill="#000" font-weight="normal" >Time (s)</text>
<text transform="translate(1205.6,557.6) scale(1,1.035)" font-size="42.5" text-anchor="middle" fill="#000" font-weight="normal" >Torsion angle (degree)</text>
<text transform="translate(34.8,249.3) rotate(-90) scale(1,1.035)" font-size="42.5" text-anchor="middle">Temperature (<tspan font-size="29" dy="-16.3">o</tspan><tspan dy="16.3">C)</tspan></text>
<text transform="translate(839.5,249.9) rotate(-90) scale(1,1.035)" font-size="42.2" text-anchor="middle">P (1/degree)</text>
<text transform="translate(298,63.2) scale(1,1)" font-size="31.7" text-anchor="middle" fill="#000" font-weight="normal" >UV ON</text>
<text transform="translate(523.7,63.3) scale(1,1)" font-size="31.7" text-anchor="middle" fill="#000" font-weight="normal" >UV OFF</text>
<text transform="translate(400.6,120.4)" font-size="31.3" fill="#0000FF">102 <tspan font-size="21" dy="-12">o</tspan><tspan dy="12">C </tspan><tspan font-style="italic">p</tspan>-Br-TRZ</text>
<text transform="translate(407.3,164.1)" font-size="31.3" fill="#000">91 <tspan font-size="21" dy="-12">o</tspan><tspan dy="12">C </tspan><tspan font-style="italic">m</tspan>-Br-TRZ</text>
<text transform="translate(411.2,210)" font-size="31.3" fill="#FF0000">81 <tspan font-size="21" dy="-12">o</tspan><tspan dy="12">C </tspan><tspan font-style="italic">o</tspan>-Br-TRZ</text>
<text transform="translate(1334.8,60.8)" font-size="31.5"><tspan font-style="italic">o</tspan>-Br-TRZ</text>
<text transform="translate(1334.8,99.4)" font-size="31.5"><tspan font-style="italic">m</tspan>-Br-TRZ</text>
<text transform="translate(1334.8,137.5)" font-size="31.5"><tspan font-style="italic">p</tspan>-Br-TRZ</text>
</svg>
</body></html>
